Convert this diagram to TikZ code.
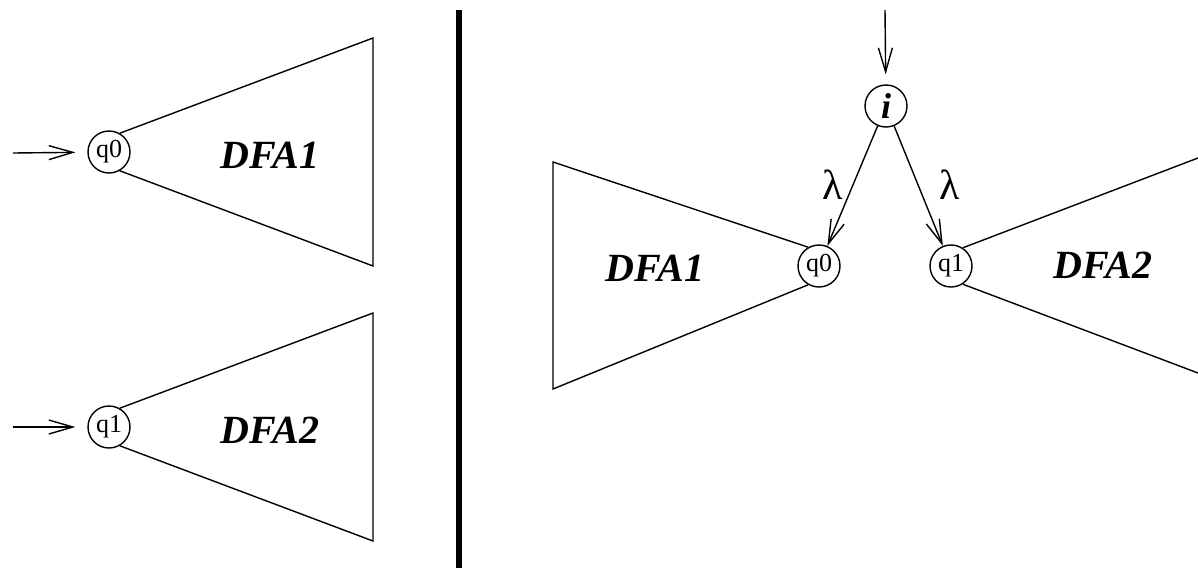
\documentclass[tikz,border=0pt]{standalone}
\usepackage{fontspec}
\setmainfont{Liberation Serif}
\usetikzlibrary{arrows.meta}
\begin{document}
\begin{tikzpicture}[x=0.5pt,y=-0.5pt,
  st/.style={circle,draw,line width=0.7pt,minimum size=21pt,inner sep=0pt,font=\fontsize{13}{13}\selectfont},
  ln/.style={line width=0.7pt},
  arr/.style={ln,-{Straight Barb[length=12pt,width=7pt,line width=0.7pt]}},
  lab/.style={font=\fontsize{20}{20}\selectfont\bfseries\itshape},
  lam/.style={font=\fontsize{21}{21}\selectfont}
]
\useasboundingbox (0,0) rectangle (1198,568);
% left part
\node[st] (q0L) at (109,152) {q0};
\node[st] (q1L) at (109,427) {q1};
\coordinate (s0) at (13,153);
\coordinate (s1) at (13,427);
\draw[arr,shorten >=6pt] (s0) -- (q0L);
\draw[arr,shorten >=6pt] (s1) -- (q1L);
\coordinate (a1) at (373,38);
\coordinate (b1) at (373,266);
\coordinate (a2) at (373,313);
\coordinate (b2) at (373,541);
\draw[ln] (q0L.60) -- (a1) -- (b1) -- (q0L.-60);
\draw[ln] (q1L.60) -- (a2) -- (b2) -- (q1L.-60);
\node[lab] (d1L) at (270,155) {DFA1};
\node[lab] (d2L) at (270,430) {DFA2};
% divider
\coordinate (v1) at (459,10);
\coordinate (v2) at (459,568);
\draw[line width=3pt] (v1) -- (v2);
% right part
\node[st,font=\fontsize{18}{18}\selectfont\bfseries\itshape] (i) at (886,106) {i};
\coordinate (si) at (885,10);
\draw[arr,shorten >=5pt] (si) -- (i);
\node[st] (q0R) at (819,266) {q0};
\node[st] (q1R) at (951,266) {q1};
\draw[arr] (i) -- (q0R);
\draw[arr] (i) -- (q1R);
\node[lam] (l1) at (833,185) {λ};
\node[lam] (l2) at (950,185) {λ};
\coordinate (a3) at (553,162);
\coordinate (b3) at (553,389);
\draw[ln] (q0R.120) -- (a3) -- (b3) -- (q0R.-120);
\coordinate (a4) at (1198,158);
\coordinate (b4) at (1198,373);
\draw[ln] (q1R.57) -- (a4);
\draw[ln] (q1R.-57) -- (b4);
\node[lab] (d1R) at (655,268) {DFA1};
\node[lab] (d2R) at (1103,265) {DFA2};
\end{tikzpicture}
\end{document}
